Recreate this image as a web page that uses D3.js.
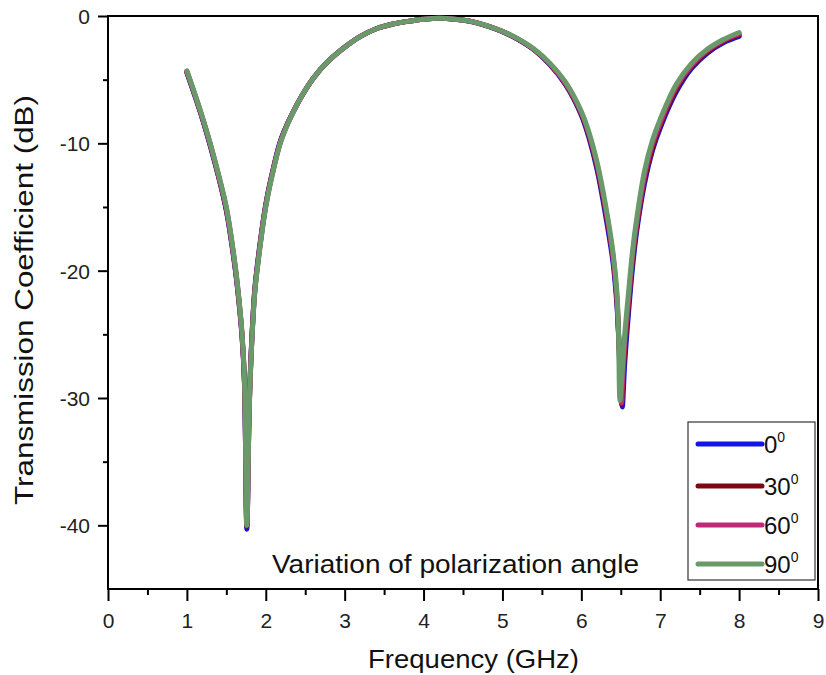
<!DOCTYPE html>
<html><head><meta charset="utf-8">
<script src="https://cdn.jsdelivr.net/npm/d3@7/dist/d3.min.js"></script>
<style>body{margin:0;background:#fff;} svg{display:block;font-family:"Liberation Sans",Arial,sans-serif;}</style>
</head><body>
<svg id="c" width="826" height="675"></svg>
<script>
const freq = [1.0,1.1,1.2,1.3,1.4,1.5,1.6,1.65,1.7,1.73,1.76,1.79,1.82,1.86,1.9,2.0,2.1,2.2,2.4,2.6,2.8,3.0,3.2,3.4,3.6,3.8,4.0,4.2,4.4,4.6,4.8,5.0,5.2,5.4,5.6,5.8,6.0,6.1,6.2,6.3,6.4,6.45,6.47,6.49,6.51,6.52,6.55,6.6,6.65,6.7,6.8,6.9,7.0,7.2,7.4,7.6,7.8,8.0];

const s0 = [-4.45,-6.25,-8.15,-10.3,-12.6,-15.3,-19.3,-21.9,-25.3,-28.9,
            -40.3,-30.6,-25.7,-21.5,-19.2,-14.8,-11.85,-9.55,-6.9,-4.9,
            -3.5,-2.45,-1.6,-1.0,-0.65,-0.42,-0.25,-0.18,-0.25,-0.43,
            -0.77,-1.23,-1.85,-2.66,-3.82,-5.4,-7.8,-9.65,-12.1,-15.4,
            -19.3,-22.6,-24.8,-27.2,-29.5,-30.7,-27.3,-23.2,-19.7,-17.0,
            -13.2,-10.6,-8.8,-6.0,-4.1,-2.9,-2.1,-1.6];
const s30 = [-4.4,-6.2,-8.1,-10.2,-12.55,-15.2,-19.2,-21.8,-25.2,-28.8,
             -40.1,-30.8,-25.8,-21.6,-19.3,-14.85,-11.9,-9.6,-6.9,-4.9,
             -3.5,-2.45,-1.6,-1.0,-0.65,-0.42,-0.25,-0.18,-0.25,-0.42,
             -0.76,-1.22,-1.83,-2.64,-3.78,-5.35,-7.7,-9.5,-11.9,-15.1,
             -18.9,-22.3,-24.8,-27.8,-30.5,-29.5,-26.4,-22.6,-19.2,-16.7,
             -12.9,-10.4,-8.6,-5.8,-3.95,-2.8,-2.0,-1.5];
const s60 = [-4.35,-6.15,-8.05,-10.15,-12.5,-15.1,-19.1,-21.7,-25.1,-28.7,
             -40.0,-30.9,-25.9,-21.7,-19.4,-14.9,-11.95,-9.65,-6.9,-4.9,
             -3.5,-2.45,-1.6,-1.0,-0.65,-0.42,-0.25,-0.18,-0.25,-0.42,
             -0.76,-1.21,-1.82,-2.62,-3.75,-5.3,-7.6,-9.35,-11.7,-14.85,
             -18.8,-22.0,-24.6,-28.2,-30.4,-29.0,-25.8,-22.2,-18.8,-16.4,
             -12.6,-10.1,-8.4,-5.6,-3.85,-2.7,-1.92,-1.4];
const s90 = [-4.3,-6.1,-8.0,-10.1,-12.4,-15.0,-19.0,-21.6,-25.0,-28.5,
             -40.0,-31.0,-26.0,-21.8,-19.5,-15.0,-12.0,-9.7,-6.9,-4.9,
             -3.5,-2.45,-1.6,-1.0,-0.65,-0.42,-0.25,-0.18,-0.25,-0.42,
             -0.75,-1.2,-1.8,-2.6,-3.7,-5.2,-7.5,-9.2,-11.5,-14.6,
             -18.5,-21.6,-24.5,-30.2,-28.8,-27.8,-25.0,-21.6,-18.4,-16.0,
             -12.2,-9.8,-8.1,-5.4,-3.7,-2.6,-1.85,-1.3];

const seriesNames = ["0","30","60","90"];
const seriesColors = ["#1414e6","#7a0a12","#c0287a","#6a9a6a"];
const xTicks = [0,1,2,3,4,5,6,7,8,9];
const yTicks = [0,-10,-20,-30,-40];

const series = [s0,s30,s60,s90];

const svg = d3.select("#c");
const L=108, R=818, T=16, B=589;
const x = d3.scaleLinear().domain([0,9]).range([L,R]);
const y = d3.scaleLinear().domain([-45,0]).range([B,T]);
const fmt = d => String(d);

// frame
svg.append("rect").attr("x",L).attr("y",T).attr("width",R-L).attr("height",B-T)
  .attr("fill","none").attr("stroke","#000").attr("stroke-width",2);

// x axis
const gx = svg.append("g").attr("transform",`translate(0,${B})`)
  .call(d3.axisBottom(x).tickValues(xTicks).tickSize(12).tickPadding(12).tickFormat(fmt));
const gxm = svg.append("g").attr("transform",`translate(0,${B})`)
  .call(d3.axisBottom(x).tickValues(d3.range(0.5,9,1)).tickSize(6).tickFormat(""));
// y axis
const gy = svg.append("g").attr("transform",`translate(${L},0)`)
  .call(d3.axisLeft(y).tickValues(yTicks).tickSize(10).tickPadding(8).tickFormat(fmt));
const gym = svg.append("g").attr("transform",`translate(${L},0)`)
  .call(d3.axisLeft(y).tickValues([-5,-15,-25,-35]).tickSize(5).tickFormat(""));

[gx,gxm,gy,gym].forEach(g=>{
  g.select(".domain").remove();
  g.selectAll("line").attr("stroke","#000").attr("stroke-width",2);
  g.selectAll("text").attr("fill","#222").style("font-size","21px").style("font-family","'Liberation Sans',Arial,sans-serif");
});
gy.selectAll("text").attr("dy","0.35em");

// lines
const line = d3.line().x((d,i)=>x(freq[i])).y(d=>y(d)).curve(d3.curveCatmullRom.alpha(0.5));
series.forEach((s,k)=>{
  svg.append("path").datum(s).attr("d",line).attr("fill","none")
    .attr("stroke",seriesColors[k]).attr("stroke-width",5).attr("stroke-linejoin","round").attr("stroke-linecap","round");
});

// annotation
svg.append("text").attr("x",272).attr("y",573).attr("fill","#111").style("font-size","26px")
  .attr("textLength",367).attr("lengthAdjust","spacingAndGlyphs")
  .text("Variation of polarization angle");

// legend
const lg = svg.append("g");
lg.append("rect").attr("x",688).attr("y",422).attr("width",127).attr("height",158)
  .attr("fill","#fff").attr("stroke","#333").attr("stroke-width",1.2);
const ly = [444,486,525,564];
seriesNames.forEach((n,k)=>{
  lg.append("line").attr("x1",698).attr("x2",762).attr("y1",ly[k]).attr("y2",ly[k])
    .attr("stroke",seriesColors[k]).attr("stroke-width",5).attr("stroke-linecap","round");
  const t = lg.append("text").attr("x",764).attr("y",ly[k]+9).attr("fill","#111").style("font-size","24px");
  t.append("tspan").text(n);
  t.append("tspan").attr("dy",-11).style("font-size","14px").text("0");
});

// axis titles
svg.append("text").attr("x",368).attr("y",668).attr("fill","#111")
  .style("font-size","25px").attr("textLength",211).attr("lengthAdjust","spacingAndGlyphs")
  .text("Frequency (GHz)");
svg.append("text").attr("transform","translate(33,505) rotate(-90)").attr("fill","#111")
  .style("font-size","25px").attr("textLength",410).attr("lengthAdjust","spacingAndGlyphs")
  .text("Transmission Coefficient (dB)");
</script>
</body></html>
